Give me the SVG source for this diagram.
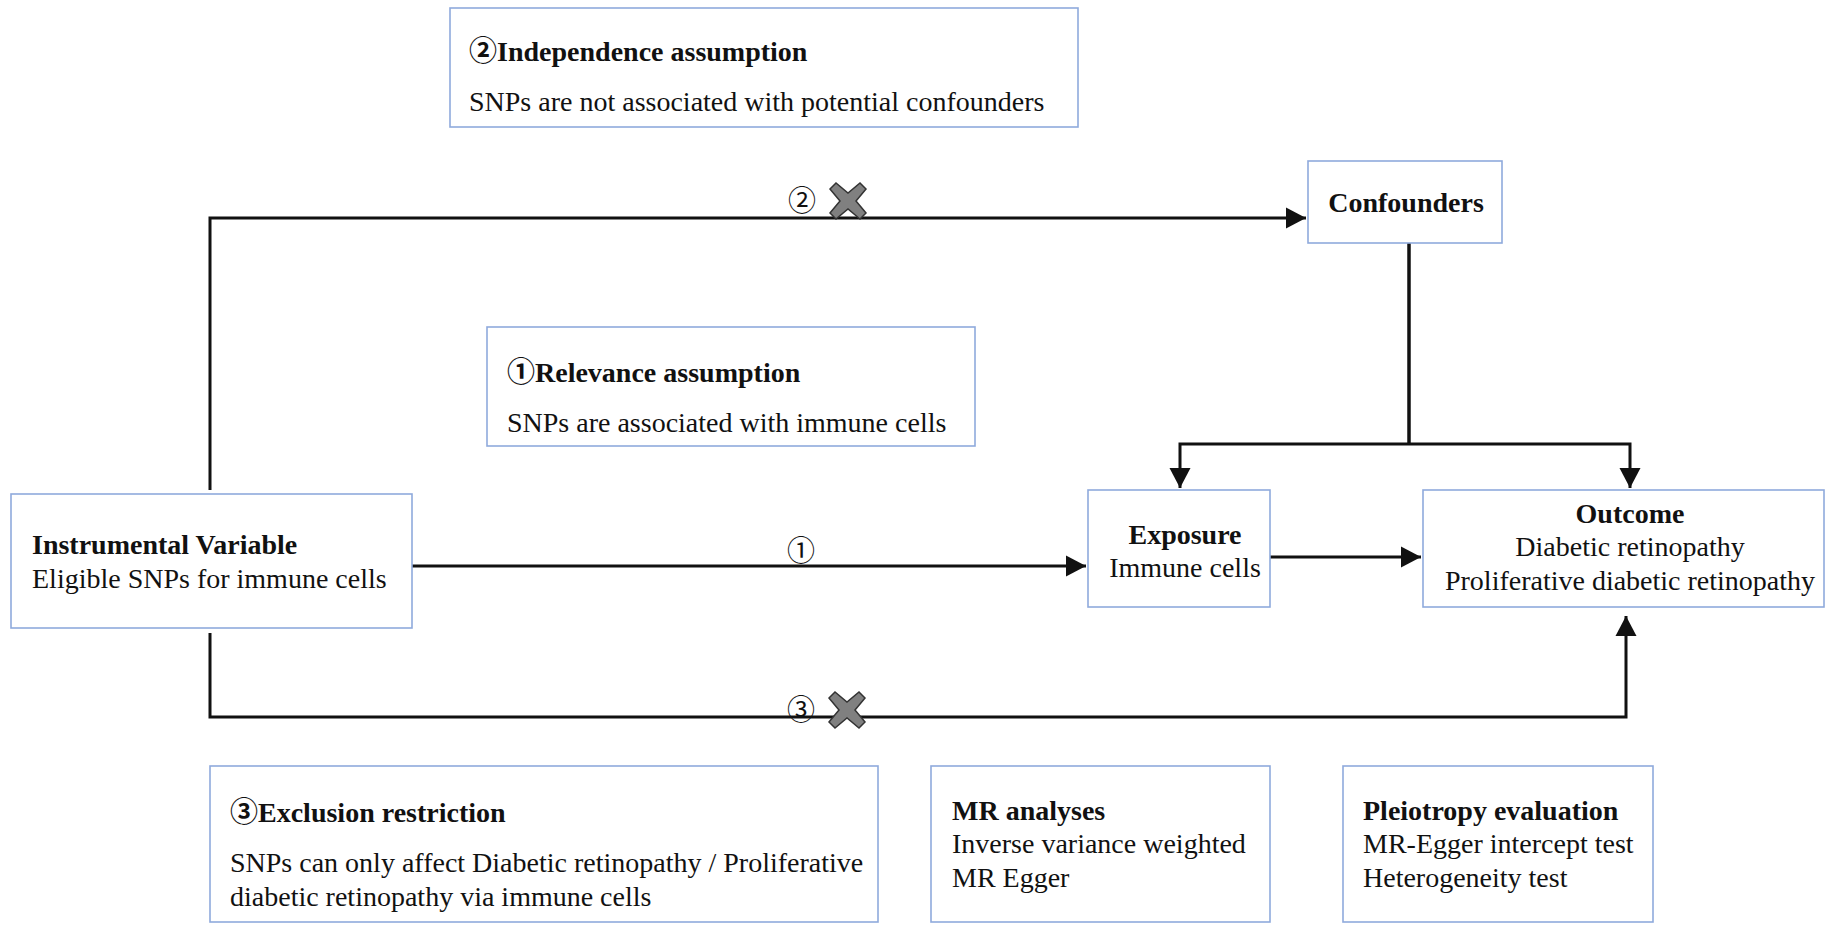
<svg xmlns="http://www.w3.org/2000/svg" width="1831" height="935" viewBox="0 0 1831 935">
<defs>
<marker id="arr" markerUnits="userSpaceOnUse" markerWidth="21" markerHeight="22" refX="20" refY="11" orient="auto">
<path d="M0,0.5 L20,11 L0,21.5 z" fill="#111"/>
</marker>
<path id="xmark" d="M-18,-12 L-12,-18 L0,-8 L12,-18 L18,-12 L8,0 L18,12 L12,18 L0,8 L-12,18 L-18,12 L-8,0 z"/>
</defs>
<style>
.box{fill:#fff;stroke:#8faadc;stroke-width:1.6}
text{font-family:"Liberation Serif","Times New Roman","Noto Sans CJK SC",serif;font-size:28px;fill:#111}
.b{font-weight:bold}
.c{text-anchor:middle}
.cd{font-family:"Noto Sans CJK SC","Noto Sans CJK JP",sans-serif}
.ln{fill:none;stroke:#111;stroke-width:3}
.x{fill:#808080;stroke:#333;stroke-width:1.5}
</style>
<rect width="1831" height="935" fill="#fff"/>

<g id="connectors">
<polyline class="ln" points="210,490 210,218 1306,218" marker-end="url(#arr)"/>
<line class="ln" x1="412" y1="566" x2="1086" y2="566" marker-end="url(#arr)"/>
<line class="ln" x1="1270" y1="557" x2="1421" y2="557" marker-end="url(#arr)"/>
<line class="ln" x1="1409" y1="243" x2="1409" y2="444" style="stroke-width:3.5"/>
<polyline class="ln" points="1409,444 1180,444 1180,488" marker-end="url(#arr)"/>
<polyline class="ln" points="1409,444 1630,444 1630,488" marker-end="url(#arr)"/>
<polyline class="ln" points="210,633 210,717 1626,717 1626,616" marker-end="url(#arr)"/>
<text class="c cd" x="802" y="211">②</text>
<use href="#xmark" class="x" x="848" y="201"/>
<text class="c cd" x="801" y="561">①</text>
<text class="c cd" x="801" y="720">③</text>
<use href="#xmark" class="x" x="847" y="710"/>
</g>

<g id="independence">
<rect class="box" x="450" y="8" width="628" height="119"/>
<text class="b" x="469" y="61"><tspan class="cd">②</tspan>Independence assumption</text>
<text x="469" y="111">SNPs are not associated with potential confounders</text>
</g>

<g id="confounders">
<rect class="box" x="1308" y="161" width="194" height="82"/>
<text class="b c" x="1406" y="212">Confounders</text>
</g>

<g id="relevance">
<rect class="box" x="487" y="327" width="488" height="119"/>
<text class="b" x="507" y="382"><tspan class="cd">①</tspan>Relevance assumption</text>
<text x="507" y="432">SNPs are associated with immune cells</text>
</g>

<g id="instrumental">
<rect class="box" x="11" y="494" width="401" height="134"/>
<text class="b" x="32" y="554">Instrumental Variable</text>
<text x="32" y="588">Eligible SNPs for immune cells</text>
</g>

<g id="exposure">
<rect class="box" x="1088" y="490" width="182" height="117"/>
<text class="b c" x="1185" y="544">Exposure</text>
<text class="c" x="1185" y="577">Immune cells</text>
</g>

<g id="outcome">
<rect class="box" x="1423" y="490" width="401" height="117"/>
<text class="b c" x="1630" y="523">Outcome</text>
<text class="c" x="1630" y="556">Diabetic retinopathy</text>
<text class="c" x="1630" y="590">Proliferative diabetic retinopathy</text>
</g>

<g id="exclusion">
<rect class="box" x="210" y="766" width="668" height="156"/>
<text class="b" x="230" y="822"><tspan class="cd">③</tspan>Exclusion restriction</text>
<text x="230" y="872">SNPs can only affect Diabetic retinopathy / Proliferative</text>
<text x="230" y="906">diabetic retinopathy via immune cells</text>
</g>

<g id="mr-analyses">
<rect class="box" x="931" y="766" width="339" height="156"/>
<text class="b" x="952" y="820">MR analyses</text>
<text x="952" y="853">Inverse variance weighted</text>
<text x="952" y="887">MR Egger</text>
</g>

<g id="pleiotropy">
<rect class="box" x="1343" y="766" width="310" height="156"/>
<text class="b" x="1363" y="820">Pleiotropy evaluation</text>
<text x="1363" y="853">MR-Egger intercept test</text>
<text x="1363" y="887">Heterogeneity test</text>
</g>
</svg>
